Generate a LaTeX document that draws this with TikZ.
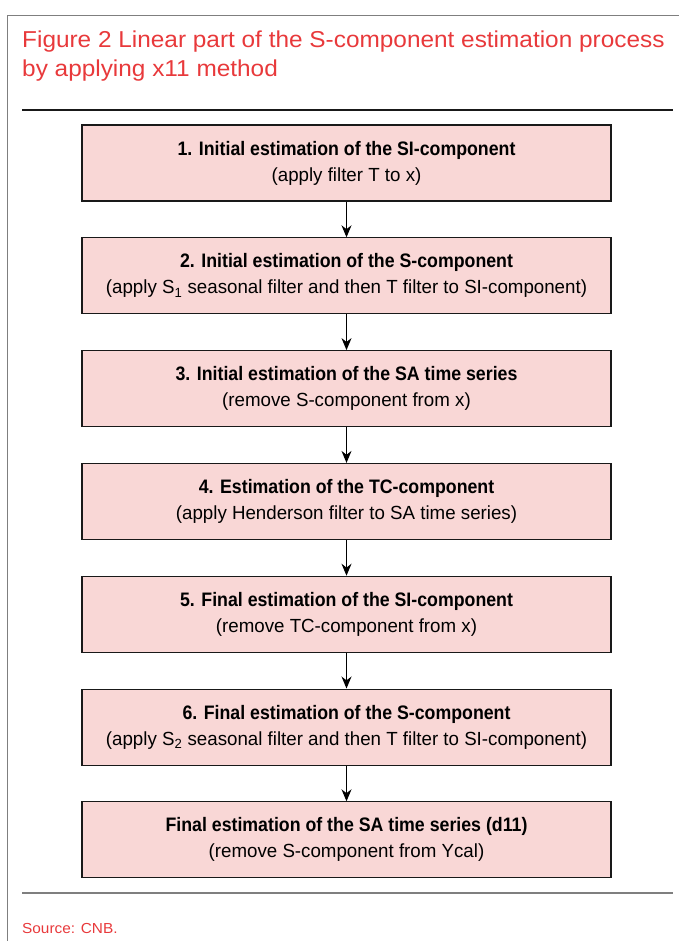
\documentclass[tikz,border=0pt]{standalone}
\usepackage{fontspec}
\setmainfont{Liberation Sans}
\newfontfamily\titlefont[FakeStretch=1.06]{Liberation Sans}
\newfontfamily\boldcond[FakeStretch=0.91]{Liberation Sans Bold}
\newfontfamily\plainbox[FakeStretch=0.985]{Liberation Sans}
\usetikzlibrary{arrows.meta}
\definecolor{titlered}{HTML}{E8393B}
\definecolor{boxpink}{HTML}{F9D7D6}
\definecolor{framegray}{HTML}{7F7F7F}
\tikzset{
  stepbox/.style={draw=black!90, line width=1.1pt, fill=boxpink,
    minimum width=529pt, minimum height=76pt, inner sep=0pt,
    align=center, anchor=north,
    font=\plainbox\fontsize{19}{26}\selectfont},
  flow/.style={line width=1.1pt, -{Stealth[length=12pt,width=10pt]}},
  redtext/.style={anchor=base west, inner sep=0pt, text=titlered},
}
\newcommand{\headline}[1]{{\boldcond\fontsize{19.5}{26}\selectfont #1}}
\begin{document}
\begin{tikzpicture}[x=1pt,y=-1pt]
\useasboundingbox (0,0) rectangle (679,941);
% outer frame (left and top edges)
\draw[framegray, line width=1pt] (7.5,941) -- (7.5,16) -- (679,16);
% title
\node[redtext, font=\titlefont\fontsize{23}{29}\selectfont] (t1) at (22,48)
  {Figure 2 Linear part of the S-component estimation process};
\node[redtext, font=\titlefont\fontsize{23}{29}\selectfont] (t2) at (22,77)
  {by applying x11 method};
% rules
\draw[black!90, line width=1.1pt] (22,110) -- (673,110);
\draw[framegray, line width=1.4pt] (22,893) -- (673,893);
% process steps
\node[stepbox] (s1) at (346.5,124.5)
  {\headline{1. Initial estimation of the SI-component}\\(apply filter T to x)};
\node[stepbox] (s2) at (346.5,237.3)
  {\headline{2. Initial estimation of the S-component}\\(apply S\textsubscript{1} seasonal filter and then T filter to SI-component)};
\node[stepbox] (s3) at (346.5,350.1)
  {\headline{3. Initial estimation of the SA time series}\\(remove S-component from x)};
\node[stepbox] (s4) at (346.5,462.9)
  {\headline{4. Estimation of the TC-component}\\(apply Henderson filter to SA time series)};
\node[stepbox] (s5) at (346.5,575.7)
  {\headline{5. Final estimation of the SI-component}\\(remove TC-component from x)};
\node[stepbox] (s6) at (346.5,688.5)
  {\headline{6. Final estimation of the S-component}\\(apply S\textsubscript{2} seasonal filter and then T filter to SI-component)};
\node[stepbox] (s7) at (346.5,801.3)
  {\headline{Final estimation of the SA time series (d11)}\\(remove S-component from Ycal)};
% connectors
\foreach \a/\b in {s1/s2,s2/s3,s3/s4,s4/s5,s5/s6,s6/s7}
  \draw[flow] (\a.south) -- (\b.north);
% source note
\node[redtext, font=\titlefont\fontsize{14.5}{17}\selectfont] (src) at (22,933)
  {Source: CNB.};
\end{tikzpicture}
\end{document}
